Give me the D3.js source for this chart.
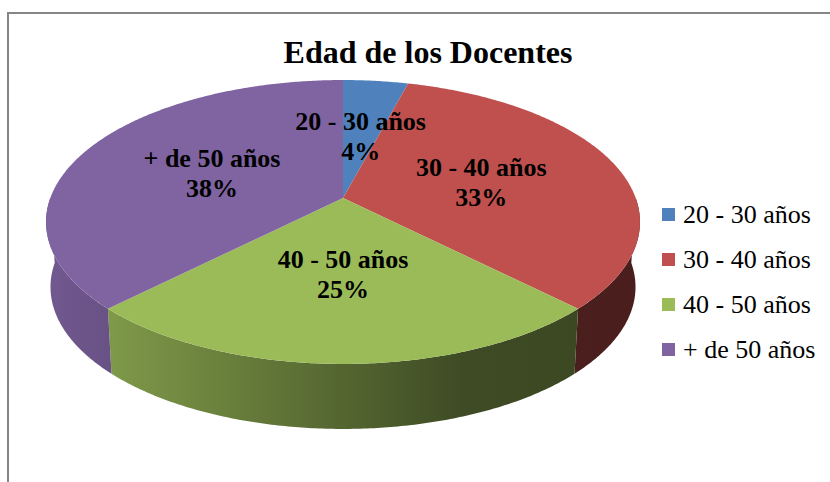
<!DOCTYPE html>
<html>
<head>
<meta charset="utf-8">
<script src="https://cdn.jsdelivr.net/npm/d3@7"></script>
<style>
  html, body { margin: 0; padding: 0; background: #fff; }
  svg { display: block; }
  svg text { font-family: "Liberation Serif", "Times New Roman", "DejaVu Serif", serif; }
</style>
</head>
<body>
<div id="pie-chart"></div>
<script>
// data: number of teachers per age group
const categories = ["20 - 30 años", "30 - 40 años", "40 - 50 años", "+ de 50 años"]
const counts = [1, 8, 6, 9]
const colors = ["#4F81BD", "#C0504D", "#9BBB59", "#8064A2"]
const chartTitle = "Edad de los Docentes"

const width = 830,
    height = 482

const svg = d3.select("#pie-chart").append("svg")
    .attr("width", width)
    .attr("height", height)

// chart area border (only top and left show in the picture)
svg.append("rect")
    .attr("x", 8)
    .attr("y", 13)
    .attr("width", width + 20)
    .attr("height", height + 20)
    .attr("fill", "#fff")
    .attr("stroke", "#868686")
    .attr("stroke-width", 2)

svg.append("text")
    .attr("x", 428)
    .attr("y", 63)
    .attr("text-anchor", "middle")
    .style("font-weight", "bold")
    .style("font-size", "32px")
    .text(chartTitle)

// 3d perspective of the pie plane
const cx = 343, cy = 198
const A = 292.7, B = 137.9, k = 0.169
const depth = 65, shrink = 0.985

const proj = (r, a) => {
    const u = r * Math.sin(a), v = -r * Math.cos(a)
    const w = 1 - k * v
    return [cx + A * u / w, cy + B * v / w]
}
const drop = (p) => [cx + (p[0] - cx) * shrink, p[1] + depth]

const pie = d3.pie().sort(null).value(d => d)
const arcs = pie(counts)
const total = d3.sum(counts)

const line = d3.line()
const rimPoints = (a0, a1) => {
    const n = Math.max(2, Math.ceil((a1 - a0) / 0.01))
    return d3.range(n + 1).map(i => proj(1, a0 + (a1 - a0) * i / n))
}

// shading of the side wall, left to right
const defs = svg.append("defs")
const shade = [[0, 0.88], [0.125, 0.8], [0.7, 0.4], [1, 0.38]]
colors.forEach((c, i) => {
    const base = d3.rgb(c)
    const g = defs.append("linearGradient")
        .attr("id", "side" + i)
        .attr("gradientUnits", "userSpaceOnUse")
        .attr("x1", cx - A).attr("x2", cx + A + 5)
        .attr("y1", 0).attr("y2", 0)
    shade.forEach(s => {
        g.append("stop")
            .attr("offset", s[0])
            .attr("stop-color", d3.rgb(base.r * s[1], base.g * s[1], base.b * s[1]).toString())
    })
})

// side walls (front half only)
arcs.forEach((d, i) => {
    const a0 = Math.max(d.startAngle, Math.PI / 2)
    const a1 = Math.min(d.endAngle, Math.PI * 3 / 2)
    if (a1 <= a0) return
    const top = rimPoints(a0, a1)
    const bottom = top.map(drop).reverse()
    svg.append("path")
        .attr("d", line(top.concat(bottom)) + "Z")
        .attr("fill", `url(#side${i})`)
})

// top faces
svg.selectAll(".slice")
    .data(arcs)
    .enter()
    .append("path")
    .attr("class", "slice")
    .attr("d", d => line([[cx, cy]].concat(rimPoints(d.startAngle, d.endAngle))) + "Z")
    .attr("fill", (d, i) => colors[i])

// data labels
const pct = (v) => Math.round(v / total * 100) + "%"
arcs.forEach((d, i) => {
    const p = proj(0.5, (d.startAngle + d.endAngle) / 2)
    const t = svg.append("text")
        .attr("text-anchor", "middle")
        .style("font-weight", "bold")
        .style("font-size", "26px")
    t.append("tspan").attr("x", p[0]).attr("y", p[1] - 5).text(categories[i])
    t.append("tspan").attr("x", p[0]).attr("y", p[1] + 25).text(pct(d.value))
})

// legend
const legend = svg.append("g")
    .attr("transform", "translate(662,208)")

const keys = legend.selectAll("g.key")
    .data(categories)
    .enter()
    .append("g")
    .attr("class", "key")
    .attr("transform", (d, i) => `translate(0,${i * 45})`)

keys.append("rect")
    .attr("width", 13)
    .attr("height", 13)
    .attr("fill", (d, i) => colors[i])

keys.append("text")
    .attr("x", 21)
    .attr("y", 15)
    .style("font-size", "26px")
    .text(d => d)
</script>
</body>
</html>
